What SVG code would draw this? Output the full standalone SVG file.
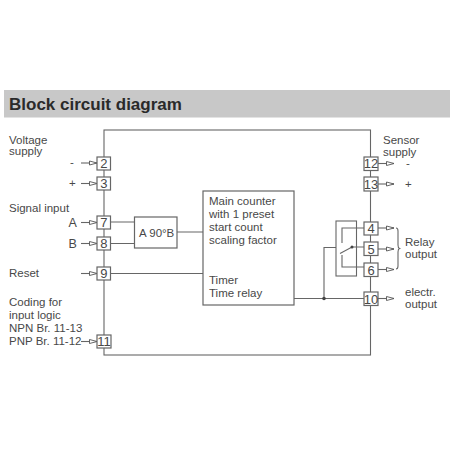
<svg xmlns="http://www.w3.org/2000/svg" width="450" height="450" viewBox="0 0 450 450">
<defs>
<marker id="arr" markerWidth="9" markerHeight="6" refX="8" refY="3" orient="auto" markerUnits="userSpaceOnUse"><path d="M0.5 1 L8 3 L0.5 5 Z" fill="#fff" stroke="#555" stroke-width="0.9"/></marker>
</defs>
<style>
text{font-family:"Liberation Sans",Arial,sans-serif;font-size:11.5px;fill:#484848}
.title{font-size:17px;font-weight:bold;fill:#2a2a2a}
.n{font-size:13px;text-anchor:middle}
.big{font-size:12.5px}
.l{fill:none;stroke:#666;stroke-width:1.1}
.b{fill:#fff;stroke:#666;stroke-width:1.2}
</style>
<rect width="450" height="450" fill="#fff"/>
<g id="header"><rect x="4" y="90" width="446" height="27.5" fill="#c8c8c8"/><text class="title" x="9" y="109.500">Block circuit diagram</text></g>
<g id="connectors">
<rect class="l" x="104" y="130" width="266.500" height="225"/>
<path class="l" d="M110 222H135M110 243.500H135M177 232H203M110 273.500H203M294 298.500H364"/>
<path class="l" d="M324 298.500V247.500H336"/>
<path class="l" d="M364 228H342V243M364 247H352L340 253.500M364 267H342V255"/>
<circle cx="352" cy="247" r="1.500" fill="#444"/>
<circle cx="324" cy="298.500" r="1.800" fill="#444"/>
<path class="l" d="M81 163H97" marker-end="url(#arr)"/>
<path class="l" d="M81 183.500H97" marker-end="url(#arr)"/>
<path class="l" d="M81 222.500H97" marker-end="url(#arr)"/>
<path class="l" d="M81 243.500H97" marker-end="url(#arr)"/>
<path class="l" d="M81 273.500H97" marker-end="url(#arr)"/>
<path class="l" d="M81 341.500H97" marker-end="url(#arr)"/>
<path class="l" d="M378 163.500H394" marker-end="url(#arr)"/>
<path class="l" d="M378 184H394" marker-end="url(#arr)"/>
<path class="l" d="M378 228H394" marker-end="url(#arr)"/>
<path class="l" d="M378 249H394" marker-end="url(#arr)"/>
<path class="l" d="M378 269.500H394" marker-end="url(#arr)"/>
<path class="l" d="M378 298.500H394" marker-end="url(#arr)"/>
<path class="l" d="M396 228Q398 228 398 231V245Q398 248 399.500 248.500Q398 249 398 252V266Q398 269 396 269"/>
</g>
<g id="relay"><rect class="l" x="336" y="221" width="20.500" height="55"/></g>
<g id="t2"><rect class="b" x="97" y="157" width="13.500" height="13"/><text class="n" x="103.800" y="168">2</text></g>
<g id="t3"><rect class="b" x="97" y="177" width="13.500" height="13"/><text class="n" x="103.800" y="188">3</text></g>
<g id="t7"><rect class="b" x="97" y="216" width="13.500" height="13"/><text class="n" x="103.800" y="227">7</text></g>
<g id="t8"><rect class="b" x="97" y="237" width="13.500" height="13"/><text class="n" x="103.800" y="248">8</text></g>
<g id="t9"><rect class="b" x="97" y="267" width="13.500" height="13"/><text class="n" x="103.800" y="278">9</text></g>
<g id="t11"><rect class="b" x="97" y="335" width="14" height="13"/><text class="n" x="104" y="346">11</text></g>
<g id="t12"><rect class="b" x="364" y="157" width="14" height="13.500"/><text class="n" x="371" y="168">12</text></g>
<g id="t13"><rect class="b" x="364" y="177" width="14" height="14"/><text class="n" x="371" y="188.500">13</text></g>
<g id="t4"><rect class="b" x="364" y="222" width="14" height="13"/><text class="n" x="371" y="233">4</text></g>
<g id="t5"><rect class="b" x="364" y="242" width="14" height="13.500"/><text class="n" x="371" y="253.500">5</text></g>
<g id="t6"><rect class="b" x="364" y="263" width="14" height="13.500"/><text class="n" x="371" y="274.500">6</text></g>
<g id="t10"><rect class="b" x="364" y="292" width="14" height="13.500"/><text class="n" x="371" y="303.500">10</text></g>
<g id="phase"><rect class="b" x="134.500" y="217" width="42.500" height="31"/><text x="139" y="237">A 90°B</text></g>
<g id="main"><rect class="b" x="203" y="191" width="91" height="114"/>
<text x="209" y="205">Main counter</text><text x="209" y="218">with 1 preset</text><text x="209" y="231">start count</text><text x="209" y="244">scaling factor</text><text x="209" y="284">Timer</text><text x="209" y="297">Time relay</text></g>
<g id="labels">
<text x="9" y="144">Voltage</text><text x="9" y="155">supply</text>
<text x="70" y="166">-</text><text x="69" y="187">+</text>
<text x="9" y="212">Signal input</text>
<text class="big" x="68.500" y="227">A</text><text class="big" x="68.500" y="248">B</text>
<text x="9" y="277">Reset</text>
<text x="9" y="306">Coding for</text><text x="9" y="319">input logic</text><text x="9" y="332">NPN Br. 11-13</text><text x="9" y="345">PNP Br. 11-12</text>
<text x="383" y="144">Sensor</text><text x="383" y="156">supply</text>
<text x="406" y="167">-</text><text x="405" y="188">+</text>
<text x="405" y="246">Relay</text><text x="405" y="258">output</text>
<text x="405" y="296">electr.</text><text x="405" y="308">output</text>
</g>
</svg>
